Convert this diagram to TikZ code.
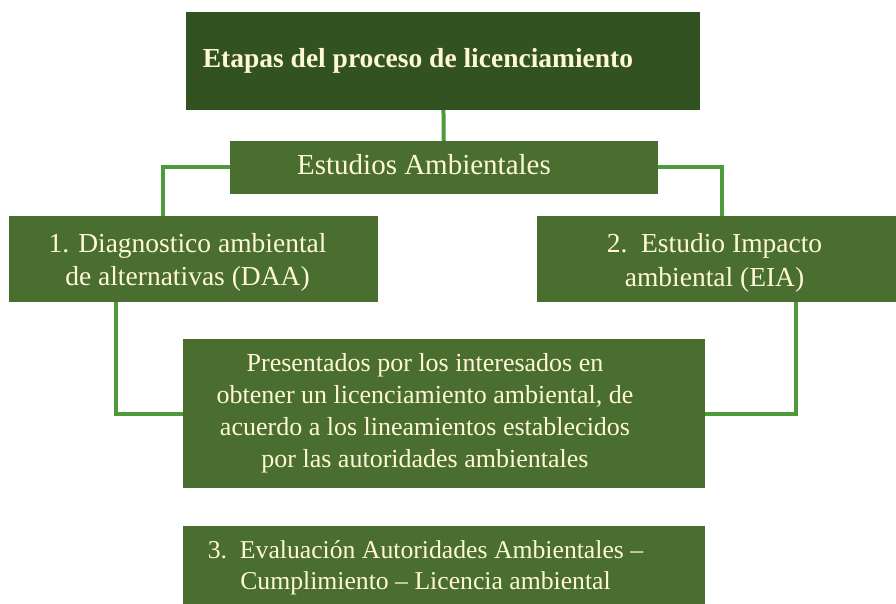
\documentclass[tikz,border=0pt]{standalone}
\usepackage{fontspec}
\setmainfont{Liberation Serif}
\usepackage{tikz}
\usetikzlibrary{positioning,backgrounds}
\definecolor{darkleaf}{HTML}{325221}
\definecolor{leaf}{HTML}{4A6E2F}
\definecolor{stem}{HTML}{4E9A3A}
\definecolor{cream}{HTML}{FFF8D6}
% text block pushed left by half of #1, down by #2
\newcommand{\leftblock}[3]{\raisebox{-#2}[\height][\depth]{\begin{tabular}{@{}c@{}}#3\end{tabular}}\kern#1}

\begin{document}
\begin{tikzpicture}[
    x=1pt, y=-1pt,
    box/.style={rectangle, fill=leaf, text=cream, inner sep=0pt,
                font=\fontsize{26}{32}\selectfont},
    link/.style={draw=stem, line width=4pt}
]
  \useasboundingbox (0,0) rectangle (896,604);

  % nodes
  \node[box, fill=darkleaf, minimum width=514pt, minimum height=98pt,
        font=\fontsize{27.5}{33}\selectfont\bfseries] (title) at (443,61)
        {\leftblock{50pt}{0pt}{Etapas del proceso de licenciamiento}};
  \node[box, minimum width=428pt, minimum height=53pt,
        font=\fontsize{29}{33}\selectfont] (est) at (444,167.5)
        {\leftblock{40pt}{0pt}{Estudios Ambientales}};
  \node[box, minimum width=369pt, minimum height=86pt,
        font=\fontsize{27.5}{33}\selectfont] (daa) at (193.5,259)
        {\leftblock{12pt}{3pt}{1. Diagnostico ambiental\\de alternativas (DAA)}};
  \node[box, minimum width=359pt, minimum height=86pt,
        font=\fontsize{27.5}{34}\selectfont] (eia) at (716.5,259)
        {\leftblock{4pt}{4pt}{2.\ \ Estudio Impacto\\ambiental (EIA)}};
  \node[box, minimum width=522pt, minimum height=149pt] (pres) at (444,413.5)
        {\leftblock{38pt}{0pt}{Presentados por los interesados en\\obtener un licenciamiento ambiental, de\\acuerdo a los lineamientos establecidos\\por las autoridades ambientales}};
  \node[box, minimum width=522pt, minimum height=78pt,
        font=\fontsize{25.7}{31}\selectfont] (eval) at (444,565)
        {\leftblock{37pt}{3pt}{3.\ \ Evaluación Autoridades Ambientales –\\Cumplimiento – Licencia ambiental}};

  % edges
  \begin{scope}[on background layer]
    \draw[link] (title) -- (est);
    \draw[link] (est.west) -| ([xshift=-30.5pt]daa.north);
    \draw[link] (est.east) -| ([xshift=5.5pt]eia.north);
    \draw[link] ([xshift=-77.5pt]daa.south) |- (pres.west);
    \draw[link] ([xshift=79.5pt]eia.south) |- (pres.east);
  \end{scope}
\end{tikzpicture}
\end{document}
